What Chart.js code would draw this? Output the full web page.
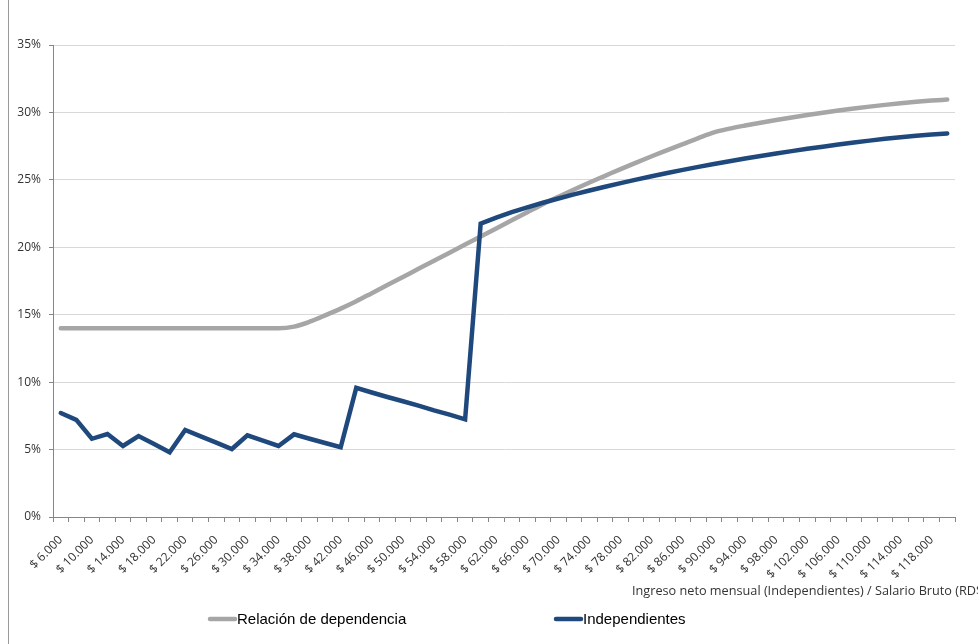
<!DOCTYPE html>
<html>
<head>
<meta charset="utf-8">
<script src="https://cdn.jsdelivr.net/npm/chart.js@4"></script>
<style>
  html, body { margin: 0; padding: 0; background: #fff; }
  #wrap { width: 978px; height: 644px; }
</style>
</head>
<body>
<div id="wrap"><canvas id="tasaChart" width="978" height="644"></canvas></div>
<script>
// ingreso mensual (RD$)
const ingresos = [
    '$ 6.000', '$ 8.000', '$ 10.000', '$ 12.000', '$ 14.000', '$ 16.000', '$ 18.000', '$ 20.000',
    '$ 22.000', '$ 24.000', '$ 26.000', '$ 28.000', '$ 30.000', '$ 32.000', '$ 34.000', '$ 36.000',
    '$ 38.000', '$ 40.000', '$ 42.000', '$ 44.000', '$ 46.000', '$ 48.000', '$ 50.000', '$ 52.000',
    '$ 54.000', '$ 56.000', '$ 58.000', '$ 60.000', '$ 62.000', '$ 64.000', '$ 66.000', '$ 68.000',
    '$ 70.000', '$ 72.000', '$ 74.000', '$ 76.000', '$ 78.000', '$ 80.000', '$ 82.000', '$ 84.000',
    '$ 86.000', '$ 88.000', '$ 90.000', '$ 92.000', '$ 94.000', '$ 96.000', '$ 98.000', '$ 100.000',
    '$ 102.000', '$ 104.000', '$ 106.000', '$ 108.000', '$ 110.000', '$ 112.000', '$ 114.000', '$ 116.000',
    '$ 118.000', '$ 120.000'
];

// tasa efectiva (%)
const dependencia = [
    14.0, 14.0, 14.0, 14.0, 14.0, 14.0, 14.0, 14.0, 14.0, 14.0,
    14.0, 14.0, 14.0, 14.0, 14.0, 14.12, 14.48, 14.95, 15.45, 16.0,
    16.6, 17.2, 17.8, 18.4, 19.0, 19.6, 20.2, 20.8, 21.4, 22.0,
    22.6, 23.2, 23.75, 24.28, 24.8, 25.3, 25.8, 26.28, 26.75, 27.2,
    27.65, 28.1, 28.52, 28.8, 29.03, 29.24, 29.44, 29.63, 29.81, 29.98,
    30.14, 30.29, 30.43, 30.56, 30.68, 30.79, 30.88, 30.95
];

const independientes = [
    7.71, 7.2, 5.8, 6.15, 5.27, 6.0, 5.41, 4.8, 6.45, 5.98,
    5.51, 5.04, 6.06, 5.66, 5.27, 6.13, 5.8, 5.49, 5.17, 9.58,
    9.23, 8.9, 8.58, 8.26, 7.91, 7.59, 7.24, 21.75, 22.2, 22.6,
    22.96, 23.3, 23.62, 23.92, 24.21, 24.49, 24.76, 25.02, 25.27, 25.51,
    25.74, 25.96, 26.17, 26.38, 26.58, 26.77, 26.95, 27.13, 27.3, 27.46,
    27.62, 27.77, 27.91, 28.04, 28.16, 28.27, 28.36, 28.44
];

const yTicks = [0, 5, 10, 15, 20, 25, 30, 35];

const tituloX = 'Ingreso neto mensual (Independientes) / Salario Bruto (RD$)';

const GRIS = '#a6a6a6';
const AZUL = '#1f497d';
const EJE = '#868686';
const tickFont = { family: '"Open Sans", sans-serif', size: 12 };

// fondo blanco y borde izquierdo del marco
const fondo = {
    id: 'fondo',
    beforeDraw(chart) {
        const ctx = chart.ctx;
        ctx.save();
        ctx.fillStyle = '#fff';
        ctx.fillRect(0, 0, chart.width, chart.height);
        ctx.strokeStyle = '#9a9a9a';
        ctx.lineWidth = 1;
        ctx.beginPath();
        ctx.moveTo(8.5, 0);
        ctx.lineTo(8.5, chart.height);
        ctx.stroke();
        ctx.restore();
    }
};

// título del eje X y leyenda con muestras de línea
const extras = {
    id: 'extras',
    afterDraw(chart) {
        const ctx = chart.ctx;
        ctx.save();
        ctx.font = '12.7px "Open Sans", sans-serif';
        ctx.fillStyle = '#333';
        ctx.textAlign = 'left';
        ctx.textBaseline = 'middle';
        ctx.fillText(tituloX, 632, 591);

        const posiciones = [208, 554];
        ctx.font = '15px "Liberation Sans", Arial, sans-serif';
        ctx.fillStyle = '#000';
        chart.data.datasets.forEach((ds, i) => {
            const x0 = posiciones[i];
            const y = 619;
            ctx.strokeStyle = ds.borderColor;
            ctx.lineWidth = 4.5;
            ctx.lineCap = 'round';
            ctx.beginPath();
            ctx.moveTo(x0 + 2, y);
            ctx.lineTo(x0 + 27, y);
            ctx.stroke();
            ctx.fillText(ds.label, x0 + 29, y + 1);
        });
        ctx.restore();
    }
};

const data = {
    labels: ingresos,
    datasets: [{
        label: 'Relación de dependencia',
        data: dependencia,
        borderColor: GRIS,
        borderWidth: 4.5,
        borderCapStyle: 'round',
        cubicInterpolationMode: 'monotone',
        pointRadius: 0,
        order: 1
    }, {
        label: 'Independientes',
        data: independientes,
        borderColor: AZUL,
        borderWidth: 4.5,
        borderCapStyle: 'round',
        tension: 0,
        pointRadius: 0,
        order: 0
    }]
};

const config = {
    type: 'line',
    data: data,
    options: {
        responsive: false,
        animation: false,
        layout: { padding: { top: 45, right: 23, left: 0, bottom: 0 } },
        plugins: {
            legend: { display: false },
            tooltip: { enabled: false }
        },
        scales: {
            x: {
                offset: true,
                grid: { offset: true, drawOnChartArea: false, tickLength: 5, color: EJE },
                border: { color: EJE },
                ticks: {
                    autoSkip: false,
                    maxRotation: 45,
                    minRotation: 45,
                    padding: 11,
                    color: '#333',
                    font: tickFont,
                    callback: (v, i) => (i % 2 === 0 ? ingresos[i] : '')
                },
                afterFit: s => { s.height = 127; }
            },
            y: {
                min: 0,
                max: 35,
                afterBuildTicks: s => { s.ticks = yTicks.map(v => ({ value: v })); },
                grid: { color: '#d9d9d9', tickColor: EJE, tickLength: 4 },
                border: { color: EJE },
                ticks: {
                    padding: 8,
                    color: '#333',
                    font: tickFont,
                    callback: v => v + '%'
                },
                afterFit: s => { s.width = 53; }
            }
        }
    },
    plugins: [fondo, extras]
};

// eslint-disable-next-line
const tasaChart = new Chart(document.querySelector('#tasaChart'), config);
</script>
</body>
</html>
